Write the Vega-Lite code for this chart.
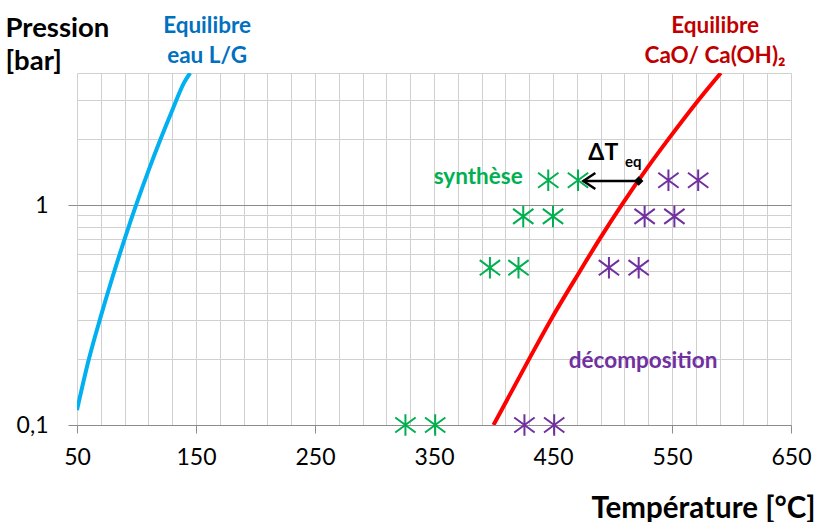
{
  "$schema": "https://vega.github.io/schema/vega-lite/v6.json",
  "width": 714,
  "height": 352,
  "autosize": {"type": "none"},
  "padding": {"left": 77, "top": 73, "right": 26, "bottom": 97},
  "background": "white",
  "config": {"view": {"stroke": null}, "font": "Lato"},
  "datasets": {
    "curves": [
      {"T": 50, "P": 0.117, "curve": "eau L/G"},
      {"T": 60, "P": 0.1995, "curve": "eau L/G"},
      {"T": 70, "P": 0.312, "curve": "eau L/G"},
      {"T": 80, "P": 0.474, "curve": "eau L/G"},
      {"T": 90, "P": 0.702, "curve": "eau L/G"},
      {"T": 100, "P": 1.014, "curve": "eau L/G"},
      {"T": 110, "P": 1.434, "curve": "eau L/G"},
      {"T": 120, "P": 1.987, "curve": "eau L/G"},
      {"T": 130, "P": 2.703, "curve": "eau L/G"},
      {"T": 140, "P": 3.615, "curve": "eau L/G"},
      {"T": 145, "P": 4.0, "curve": "eau L/G"},
      {"T": 400, "P": 0.1, "curve": "CaO/Ca(OH)2"},
      {"T": 430, "P": 0.2, "curve": "CaO/Ca(OH)2"},
      {"T": 448, "P": 0.3, "curve": "CaO/Ca(OH)2"},
      {"T": 472.5, "P": 0.5, "curve": "CaO/Ca(OH)2"},
      {"T": 489, "P": 0.7, "curve": "CaO/Ca(OH)2"},
      {"T": 507.5, "P": 1.0, "curve": "CaO/Ca(OH)2"},
      {"T": 530, "P": 1.5, "curve": "CaO/Ca(OH)2"},
      {"T": 547, "P": 2.0, "curve": "CaO/Ca(OH)2"},
      {"T": 572, "P": 3.0, "curve": "CaO/Ca(OH)2"},
      {"T": 591, "P": 4.0, "curve": "CaO/Ca(OH)2"}
    ],
    "markers": [
      {"T": 326, "P": 0.1, "kind": "synthèse"},
      {"T": 351, "P": 0.1, "kind": "synthèse"},
      {"T": 397, "P": 0.52, "kind": "synthèse"},
      {"T": 421, "P": 0.52, "kind": "synthèse"},
      {"T": 425, "P": 0.89, "kind": "synthèse"},
      {"T": 450, "P": 0.89, "kind": "synthèse"},
      {"T": 446, "P": 1.3, "kind": "synthèse"},
      {"T": 471, "P": 1.3, "kind": "synthèse"},
      {"T": 426, "P": 0.1, "kind": "décomposition"},
      {"T": 451, "P": 0.1, "kind": "décomposition"},
      {"T": 497, "P": 0.52, "kind": "décomposition"},
      {"T": 522, "P": 0.52, "kind": "décomposition"},
      {"T": 527, "P": 0.89, "kind": "décomposition"},
      {"T": 552, "P": 0.89, "kind": "décomposition"},
      {"T": 547, "P": 1.3, "kind": "décomposition"},
      {"T": 572, "P": 1.3, "kind": "décomposition"}
    ],
    "arrow": [
      {"T": 522, "T2": 475.5, "P": 1.29}
    ],
    "labels": [
      {"T": 159.3, "P": 6.07, "label": "Equilibre", "grp": "eau"},
      {"T": 159.3, "P": 4.46, "label": "eau L/G", "grp": "eau"},
      {"T": 586.2, "P": 6.07, "label": "Equilibre", "grp": "CaO"},
      {"T": 586.2, "P": 4.46, "label": "CaO/ Ca(OH)₂", "grp": "CaO"},
      {"T": 387.1, "P": 1.256, "label": "synthèse", "grp": "synthèse"},
      {"T": 525.7, "P": 0.1825, "label": "décomposition", "grp": "décomposition"}
    ],
    "delta": [
      {"T": 479.7, "P": 1.604, "label": "ΔT", "part": "main"},
      {"T": 510.5, "P": 1.49, "label": "eq", "part": "sub"}
    ]
  },
  "resolve": {"scale": {"color": "independent"}, "axis": {"x": "independent", "y": "independent"}},
  "layer": [
    {
      "data": {"name": "curves"},
      "mark": {"type": "line", "strokeWidth": 4, "clip": true, "interpolate": "monotone"},
      "encoding": {
        "x": {
          "field": "T", "type": "quantitative",
          "scale": {"domain": [50, 650], "nice": false, "zero": false},
          "axis": {
            "orient": "bottom",
            "values": [50,70,90,110,130,150,170,190,210,230,250,270,290,310,330,350,370,390,410,430,450,470,490,510,530,550,570,590,610,630,650],
            "grid": true,
            "gridColor": "#D0D0D0",
            "gridWidth": 1,
            "labels": false,
            "ticks": false,
            "domain": false,
            "title": null
          }
        },
        "y": {
          "field": "P", "type": "quantitative",
          "scale": {"type": "log", "domain": [0.1, 4], "nice": false},
          "axis": {
            "orient": "left",
            "values": [0.1,0.2,0.3,0.4,0.5,0.6,0.7,0.8,0.9,1,2,3,4],
            "grid": true,
            "gridColor": {"condition": {"test": "datum.value == 1", "value": "#8C8C8C"}, "value": "#D0D0D0"},
            "gridWidth": 1,
            "labels": false,
            "ticks": false,
            "domain": false,
            "title": null
          }
        },
        "color": {
          "field": "curve", "type": "nominal",
          "scale": {"domain": ["eau L/G", "CaO/Ca(OH)2"], "range": ["#00B0F0", "#FF0000"]},
          "legend": null
        },
        "detail": {"field": "curve"}
      }
    },
    {
      "data": {"name": "markers"},
      "mark": {"type": "point", "shape": "M0,-1L0,1M-0.95,-0.7L0.95,0.7M-0.95,0.7L0.95,-0.7", "filled": false, "strokeWidth": 2, "size": 460, "opacity": 1},
      "encoding": {
        "x": {
          "field": "T", "type": "quantitative",
          "axis": {
            "orient": "bottom",
            "values": [50, 150, 250, 350, 450, 550, 650],
            "grid": false,
            "tickSize": 8,
            "tickColor": "#8C8C8C",
            "domainColor": "#8C8C8C",
            "labelFont": "Lato",
            "labelFontSize": 23,
            "labelColor": "#000000",
            "labelBaseline": "alphabetic",
            "labelPadding": 31,
            "labelFlush": false,
            "labelOverlap": false,
            "title": "Température [°C]",
            "titleFont": "Lato",
            "titleFontSize": 29.5,
            "titleFontWeight": "bold",
            "titleColor": "#000000",
            "titleAlign": "right",
            "titleAnchor": "end",
            "titleBaseline": "alphabetic",
            "titleX": 738,
            "titleY": 92
          }
        },
        "y": {
          "field": "P", "type": "quantitative",
          "axis": {
            "orient": "left",
            "values": [0.1, 1],
            "labelExpr": "datum.value == 1 ? '1' : '0,1'",
            "grid": false,
            "tickSize": 9,
            "tickColor": "#8C8C8C",
            "domain": false,
            "labelFont": "Lato",
            "labelFontSize": 23,
            "labelColor": "#000000",
            "labelBaseline": "middle",
            "labelPadding": 20,
            "labelFlush": false,
            "labelOverlap": false,
            "title": ["Pression", "[bar]"],
            "titleFont": "Lato",
            "titleFontSize": 27.5,
            "titleFontWeight": "bold",
            "titleColor": "#000000",
            "titleAngle": 0,
            "titleAlign": "left",
            "titleBaseline": "alphabetic",
            "titleLineHeight": 33,
            "titleX": -72,
            "titleY": -37
          }
        },
        "color": {
          "field": "kind", "type": "nominal",
          "scale": {"domain": ["synthèse", "décomposition"], "range": ["#00B050", "#7030A0"]},
          "legend": null
        }
      }
    },
    {
      "data": {"name": "arrow"},
      "mark": {"type": "rule", "color": "#000000", "strokeWidth": 2.5},
      "encoding": {
        "x": {"field": "T", "type": "quantitative", "axis": null},
        "x2": {"field": "T2"},
        "y": {"field": "P", "type": "quantitative", "axis": null}
      }
    },
    {
      "data": {"name": "arrow"},
      "mark": {"type": "point", "shape": "M1.5,-1L0,0L1.5,1", "filled": false, "strokeWidth": 2.5, "size": 256, "color": "#000000", "opacity": 1},
      "encoding": {
        "x": {"field": "T2", "type": "quantitative", "axis": null},
        "y": {"field": "P", "type": "quantitative", "axis": null}
      }
    },
    {
      "data": {"name": "arrow"},
      "mark": {"type": "point", "shape": "diamond", "filled": true, "size": 90, "color": "#000000", "opacity": 1},
      "encoding": {
        "x": {"field": "T", "type": "quantitative", "axis": null},
        "y": {"field": "P", "type": "quantitative", "axis": null}
      }
    },
    {
      "data": {"name": "labels"},
      "mark": {"type": "text", "fontWeight": "bold", "fontSize": 22.5, "align": "center", "baseline": "alphabetic", "font": "Lato"},
      "encoding": {
        "x": {"field": "T", "type": "quantitative", "axis": null},
        "y": {"field": "P", "type": "quantitative", "axis": null},
        "text": {"field": "label"},
        "color": {
          "field": "grp", "type": "nominal",
          "scale": {"domain": ["eau", "CaO", "synthèse", "décomposition"], "range": ["#0070C0", "#C00000", "#00B050", "#7030A0"]},
          "legend": null
        }
      }
    },
    {
      "data": {"name": "delta"},
      "transform": [{"filter": "datum.part == 'main'"}],
      "mark": {"type": "text", "fontWeight": "bold", "fontSize": 23, "align": "left", "baseline": "alphabetic", "font": "Lato", "color": "#000000"},
      "encoding": {
        "x": {"field": "T", "type": "quantitative", "axis": null},
        "y": {"field": "P", "type": "quantitative", "axis": null},
        "text": {"field": "label"}
      }
    },
    {
      "data": {"name": "delta"},
      "transform": [{"filter": "datum.part == 'sub'"}],
      "mark": {"type": "text", "fontWeight": "bold", "fontSize": 15, "align": "left", "baseline": "alphabetic", "font": "Lato", "color": "#000000"},
      "encoding": {
        "x": {"field": "T", "type": "quantitative", "axis": null},
        "y": {"field": "P", "type": "quantitative", "axis": null},
        "text": {"field": "label"}
      }
    }
  ]
}
